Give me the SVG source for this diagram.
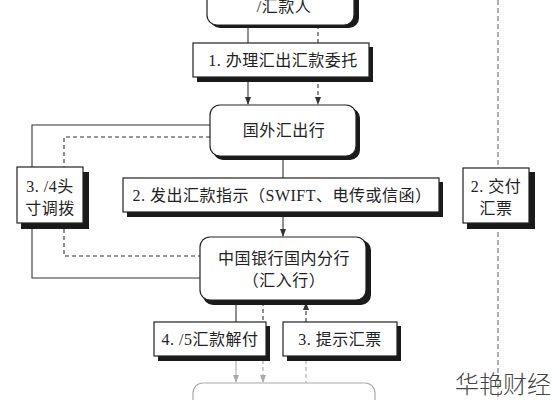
<svg xmlns="http://www.w3.org/2000/svg" width="555" height="400" viewBox="0 0 555 400">
<style>
.t{font-family:"Liberation Serif","Noto Sans CJK SC",serif;font-size:16px;letter-spacing:0.5px;fill:#222;text-anchor:middle}
.box{fill:#fff;stroke:#222;stroke-width:1.2}
.sh{fill:#1a1a1a}
.ln{fill:none;stroke:#333;stroke-width:1.1}
.ds{fill:none;stroke:#333;stroke-width:1.1;stroke-dasharray:4 3}
.gl{fill:none;stroke:#aaa;stroke-width:1.1}
.gd{fill:none;stroke:#aaa;stroke-width:1.1;stroke-dasharray:4 3}
.rd{fill:none;stroke:#777;stroke-width:1.2;stroke-dasharray:5 3}
</style>
<defs>
<marker id="a" viewBox="0 0 8 8" refX="7" refY="4" markerWidth="8" markerHeight="8" orient="auto" markerUnits="userSpaceOnUse"><path d="M0,1 L8,4 L0,7 Z" fill="#333"/></marker>
<marker id="ag" viewBox="0 0 8 8" refX="7" refY="4" markerWidth="8" markerHeight="8" orient="auto" markerUnits="userSpaceOnUse"><path d="M0,1 L8,4 L0,7 Z" fill="#aaa"/></marker>
</defs>
<rect width="555" height="400" fill="#fff"/>
<g id="connectors">
<path class="ln" d="M248,25 V43 M248,77 V104" marker-end="url(#a)"/>
<path class="ds" d="M318,25 V43"/>
<path class="ds" d="M318,77 V104" marker-end="url(#a)"/>
<path class="ln" d="M210,125 H32 V278 H200"/>
<path class="ds" d="M210,137 H64 V256 H200"/>
<path class="ln" d="M283,158 V178"/>
<path class="ln" d="M283,213 V236" marker-end="url(#a)"/>
<path class="rd" d="M498,0 V400"/>
<path class="ln" d="M236,302 V322"/>
<path class="ds" d="M263,302 V322"/>
<path class="ds" d="M306,322 V303" marker-end="url(#a)"/>
<path class="gl" d="M236,360 V382" marker-end="url(#ag)"/>
<path class="gd" d="M263,360 V382" marker-end="url(#ag)"/>
<path class="gd" d="M306,360 V383"/>
</g>
<g id="n-remitter">
<rect class="sh" x="210" y="-20" width="149" height="48" rx="10"/>
<rect class="box" x="207" y="-22" width="147" height="47" rx="10"/>
<text class="t" x="284" y="12">/汇款人</text>
</g>
<g id="n-step1">
<rect class="sh" x="197" y="47" width="176" height="35"/>
<rect class="box" x="193" y="43" width="176" height="34"/>
<text class="t" x="283" y="66">1. 办理汇出汇款委托</text>
</g>
<g id="n-foreign">
<rect class="sh" x="213" y="108" width="147" height="52" rx="10"/>
<rect class="box" x="210" y="105" width="146" height="51" rx="10"/>
<text class="t" x="284" y="136">国外汇出行</text>
</g>
<g id="n-step34">
<rect class="sh" x="21" y="172" width="68" height="57"/>
<rect class="box" x="17" y="167" width="66" height="56"/>
<text class="t" x="50" y="192">3. /4头</text>
<text class="t" x="50" y="214">寸调拨</text>
</g>
<g id="n-step2">
<rect class="sh" x="127" y="182" width="316" height="35"/>
<rect class="box" x="123" y="178" width="316" height="34"/>
<text class="t" x="282" y="201">2. 发出汇款指示（SWIFT、电传或信函）</text>
</g>
<g id="n-deliver">
<rect class="sh" x="467" y="172" width="68" height="57"/>
<rect class="box" x="463" y="168" width="66" height="55"/>
<text class="t" x="496" y="192">2. 交付</text>
<text class="t" x="496" y="214">汇票</text>
</g>
<g id="n-china">
<rect class="sh" x="203" y="240" width="168" height="65" rx="10"/>
<rect class="box" x="200" y="237" width="166" height="63" rx="10"/>
<text class="t" x="284" y="264">中国银行国内分行</text>
<text class="t" x="284" y="286">（汇入行）</text>
</g>
<g id="n-step45">
<rect class="sh" x="158" y="326" width="112" height="35"/>
<rect class="box" x="154" y="322" width="112" height="34"/>
<text class="t" x="210" y="345">4. /5汇款解付</text>
</g>
<g id="n-step3">
<rect class="sh" x="287" y="326" width="114" height="35"/>
<rect class="box" x="283" y="322" width="114" height="34"/>
<text class="t" x="340" y="345">3. 提示汇票</text>
</g>
<g id="n-payee">
<rect x="193" y="383" width="182" height="40" rx="10" fill="#fff" stroke="#aaa" stroke-width="1.2"/>
</g>
<text x="503" y="393" style="font-family:'Noto Sans CJK SC',sans-serif;font-size:24px;font-weight:300;fill:#444;text-anchor:middle">华艳财经</text>
</svg>
